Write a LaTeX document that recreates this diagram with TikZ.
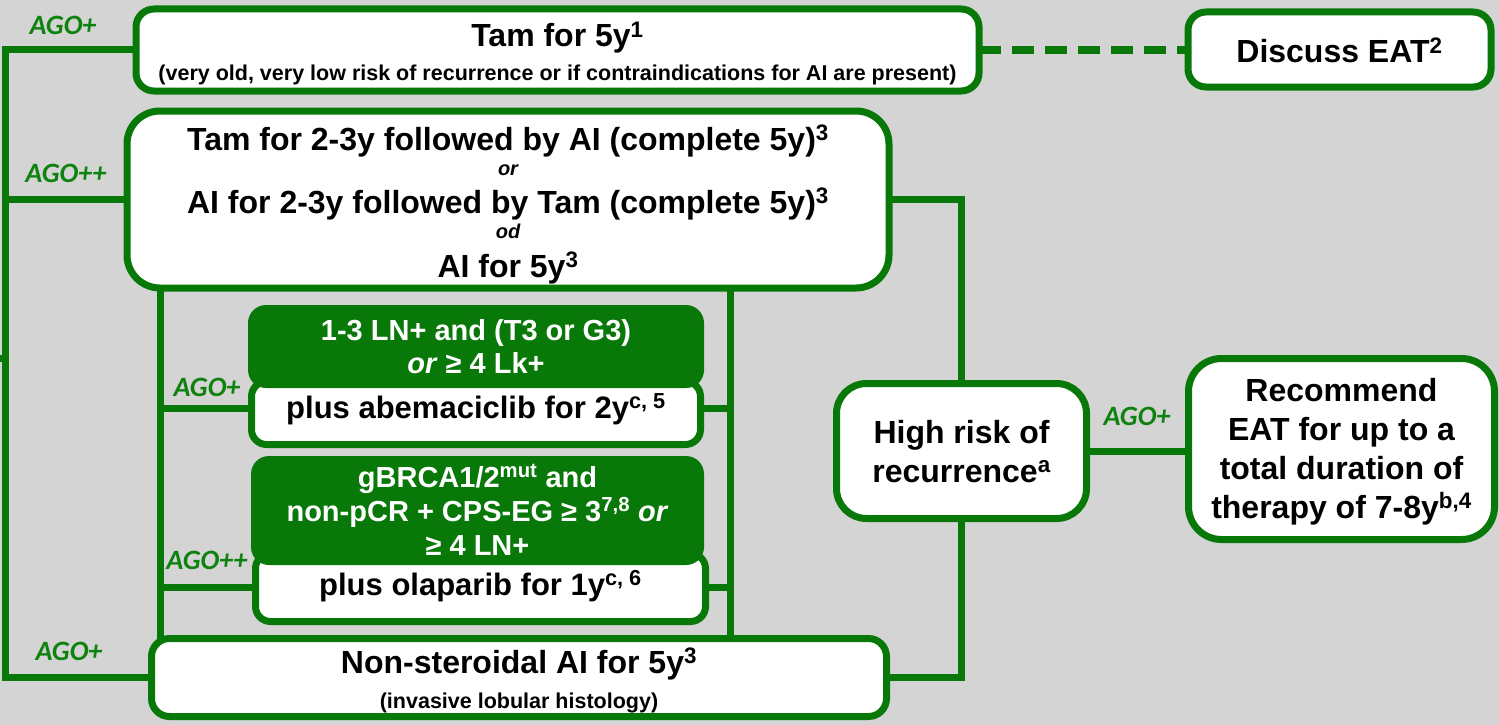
\documentclass[tikz,border=0pt]{standalone}
\usepackage{fontspec}
\setmainfont{Liberation Sans}
\newfontfamily\agofont{Carlito}
\definecolor{canvas}{RGB}{212,212,212}
\definecolor{agogreen}{RGB}{8,120,8}
\definecolor{agolabel}{RGB}{14,130,14}
\pgfdeclarelayer{backdrop}
\pgfdeclarelayer{wires}
\pgfsetlayers{backdrop,wires,main}
\lineskiplimit=-100pt
\tikzset{
  box/.style={draw=agogreen, line width=7pt, fill=white, rounded corners=18pt,
    inner sep=0pt, outer sep=0pt, align=center, text=black},
  gbox/.style={fill=agogreen, draw=none, rounded corners=18pt,
    inner sep=0pt, outer sep=0pt, align=center, text=white},
  wire/.style={draw=agogreen, line width=7pt},
  dashwire/.style={draw=agogreen, line width=8.5pt, dash pattern=on 22pt off 11pt},
  ago/.style={text=agolabel, inner sep=0pt,
    font=\agofont\fontsize{28}{28}\selectfont\bfseries\itshape},
  big/.style={font=\fontsize{32}{#1}\selectfont\bfseries},
  mid/.style={font=\fontsize{29}{#1}\selectfont\bfseries},
}
% invisible struts fixing the extent of the first and last text lines
\newcommand\hstrut[1]{\rule{0pt}{#1}}
\newcommand\dstrut[1]{\rule[-#1]{0pt}{#1}}
\newcommand\smalltxt[1]{{\fontsize{21.5}{21.5}\selectfont #1}}
\newcommand\connword[1]{{\fontsize{20}{20}\selectfont\itshape #1}}
\begin{document}
\begin{tikzpicture}[x=1pt,y=-1pt]
\begin{pgfonlayer}{backdrop}
  \fill[canvas] (0,0) rectangle (1499,725);
\end{pgfonlayer}
\useasboundingbox (0,0) rectangle (1499,725);

% treatment options
\node[box, big=34, minimum width=843pt, minimum height=82pt] (tam5) at (557.5,50)
  {\hstrut{36pt}Tam for 5y\textsuperscript{1}\\
   \smalltxt{(very old, very low risk of recurrence or if contraindications for AI are present)}\dstrut{8pt}};
\node[box, big=34, minimum width=303pt, minimum height=75pt] (eat2) at (1339.5,49.5)
  {\hstrut{33pt}Discuss EAT\textsuperscript{2}\dstrut{6pt}};
\node[box, big=25, rounded corners=33pt, minimum width=762pt, minimum height=177pt] (seq) at (508,199.5)
  {\hstrut{36pt}Tam for 2-3y followed by AI (complete 5y)\textsuperscript{3}\\
   \connword{or}\\[13pt]
   AI for 2-3y followed by Tam (complete 5y)\textsuperscript{3}\\
   \connword{od}\\[14pt]
   AI for 5y\textsuperscript{3}\dstrut{8pt}};

% abemaciclib block
\node[box, font=\fontsize{31}{31}\selectfont\bfseries, rounded corners=15pt,
  minimum width=449pt, minimum height=63pt] (abemW) at (476,413)
  {\hstrut{34pt}plus abemaciclib for 2y\textsuperscript{c, 5}\dstrut{24pt}};
\node[gbox, mid=33, minimum width=456pt, minimum height=83pt] (abemG) at (476,346.5)
  {\hstrut{30pt}1-3 LN+ and (T3 or G3)\\ \textit{or} ≥ 4 Lk+\dstrut{10pt}};

% olaparib block
\node[box, font=\fontsize{31}{31}\selectfont\bfseries, rounded corners=15pt,
  minimum width=450pt, minimum height=68pt] (olapW) at (480.5,587.5)
  {\hstrut{34pt}plus olaparib for 1y\textsuperscript{c, 6}\dstrut{19pt}};
\node[gbox, mid=34, minimum width=453pt, minimum height=105pt] (olapG) at (477.5,510.5)
  {\hstrut{31pt}gBRCA1/2\textsuperscript{mut} and\\
   non-pCR + CPS-EG ≥ 3\textsuperscript{7,8} \textit{or}\\
   ≥ 4 LN+\dstrut{10pt}};

\node[box, big=35, minimum width=735pt, minimum height=78pt] (nsai) at (519,677.5)
  {\hstrut{34pt}Non-steroidal AI for 5y\textsuperscript{3}\\
   \smalltxt{(invasive lobular histology)}\dstrut{8pt}};

% risk assessment and extended therapy
\node[box, big=39, rounded corners=30pt, minimum width=250pt, minimum height=135pt] (risk) at (961.5,451)
  {\hstrut{33pt}High risk of\\ recurrence\textsuperscript{a}\dstrut{10pt}};
\node[box, big=38.67, rounded corners=33pt, minimum width=306pt, minimum height=181pt] (rec) at (1341.5,449)
  {\hstrut{32pt}Recommend\\ EAT for up to a\\ total duration of\\
   therapy of 7-8y\textsuperscript{b,4}\dstrut{10pt}};

% connectors
\coordinate (trunkTop) at (5.5,50);
\coordinate (trunkBot) at (5.5,677.5);
\coordinate (feed) at (0,358);
\coordinate (vl) at (160,0);
\coordinate (vr) at (730.5,0);
\coordinate (abemY) at (0,408);
\begin{pgfonlayer}{wires}
  \draw[wire] (tam5.west) -- (trunkTop) -- (trunkBot) -- (nsai.west);
  \draw[wire] (seq.west) -- (seq.west -| trunkTop);
  \draw[wire] (feed) -- (feed -| trunkTop);
  \draw[wire] (seq.south -| vl) -- (nsai.north -| vl);
  \draw[wire] (seq.south -| vr) -- (nsai.north -| vr);
  \draw[wire] (vl |- abemY) -- (abemW.west |- abemY);
  \draw[wire] (abemW.east |- abemY) -- (vr |- abemY);
  \draw[wire] (vl |- olapW.west) -- (olapW.west);
  \draw[wire] (olapW.east) -- (vr |- olapW.east);
  \draw[wire] (seq.east) -| (risk.north);
  \draw[wire] (risk.south) |- (nsai.east);
  \draw[wire] (risk.east) -- (risk.east -| rec.west);
  \draw[dashwire] (tam5.east) -- (tam5.east -| eat2.west);
\end{pgfonlayer}

% recommendation grades
\node[ago] (g1) at (63,25) {AGO+};
\node[ago] (g2) at (66,173) {AGO++};
\node[ago] (g3) at (207,387) {AGO+};
\node[ago] (g4) at (207,560) {AGO++};
\node[ago] (g5) at (69,651) {AGO+};
\node[ago] (g6) at (1137,416) {AGO+};
\end{tikzpicture}
\end{document}
